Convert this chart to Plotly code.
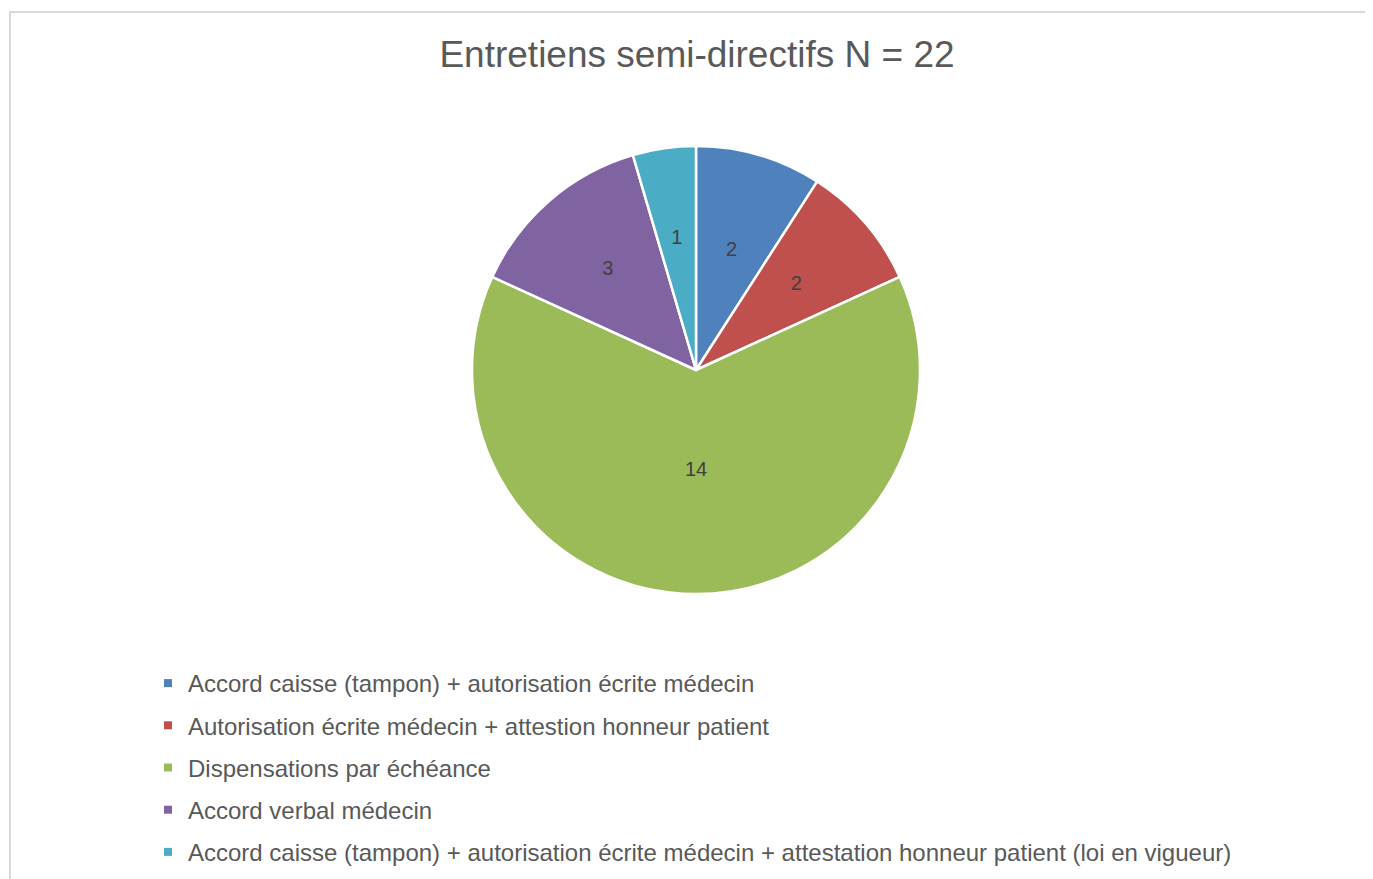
import plotly.graph_objects as go

labels = [
    "Accord caisse (tampon) + autorisation écrite médecin",
    "Autorisation écrite médecin + attestion honneur patient",
    "Dispensations par échéance",
    "Accord verbal médecin",
    "Accord caisse (tampon) + autorisation écrite médecin + attestation honneur patient (loi en vigueur)",
]
values = [2, 2, 14, 3, 1]
colors = ["#4F81BD", "#C0504D", "#9BBB59", "#8064A2", "#4BACC6"]
title_text = "Entretiens semi-directifs N = 22"

W, H = 1373, 879
OFF = 8  # page body margin
cx, cy, r = 696 - OFF, 370 - OFF, 224
# radius of the invisible helper pie used to place each slice's value label
label_radius_frac = [0.72, 0.76, 0.88, 0.85, 0.685]


def dom(rad):
    return dict(x=[(cx - rad) / W, (cx + rad) / W], y=[1 - (cy + rad) / H, 1 - (cy - rad) / H])


lab_font = dict(family="Liberation Sans, Arial", size=20, color="#404040")

fig = go.Figure()
# main pie (no text)
fig.add_trace(go.Pie(
    labels=labels, values=values, sort=False, direction="clockwise", rotation=0,
    marker=dict(colors=colors, line=dict(color="white", width=2.5)),
    textinfo="none", showlegend=False, hoverinfo="label+value",
    domain=dom(r),
))
# transparent overlay pies used only to place the value labels
for k, frac in enumerate(label_radius_frac):
    tpl = ["%{value}" if j == k else "" for j in range(len(values))]
    fig.add_trace(go.Pie(
        labels=labels, values=values, sort=False, direction="clockwise", rotation=0,
        marker=dict(colors=["rgba(0,0,0,0)"] * len(values), line=dict(width=0)),
        texttemplate=tpl, textposition="inside", insidetextorientation="horizontal",
        textfont=lab_font, showlegend=False, hoverinfo="skip",
        domain=dom(r * frac),
    ))

for i, (lab, col) in enumerate(zip(labels, colors)):
    fig.add_trace(go.Scatter(
        x=[None], y=[None], mode="markers", name=lab,
        marker=dict(symbol="square", size=8, color=col),
        legendgroup=f"g{i}", showlegend=True, hoverinfo="skip",
    ))

fig.update_layout(
    width=W, height=H,
    margin=dict(l=0, r=0, t=0, b=0),
    paper_bgcolor="white", plot_bgcolor="white",
    xaxis=dict(visible=False), yaxis=dict(visible=False),
    title=dict(text=title_text, x=689 / W, xanchor="center", y=1 - 46 / H, yanchor="middle",
               font=dict(family="Liberation Sans, Arial", size=37, color="#595959")),
    legend=dict(x=140 / W, xanchor="left", y=1 - 653 / H, yanchor="top",
                font=dict(family="Liberation Sans, Arial", size=24, color="#595959"),
                tracegroupgap=8, itemwidth=30, bgcolor="rgba(0,0,0,0)"),
    shapes=[dict(type="rect", xref="paper", yref="paper",
                 x0=2 / W, x1=1.02, y0=-0.02, y1=1 - 4 / H,
                 line=dict(color="#D9D9D9", width=2), fillcolor="rgba(0,0,0,0)")],
)

fig.write_html("out.html")
